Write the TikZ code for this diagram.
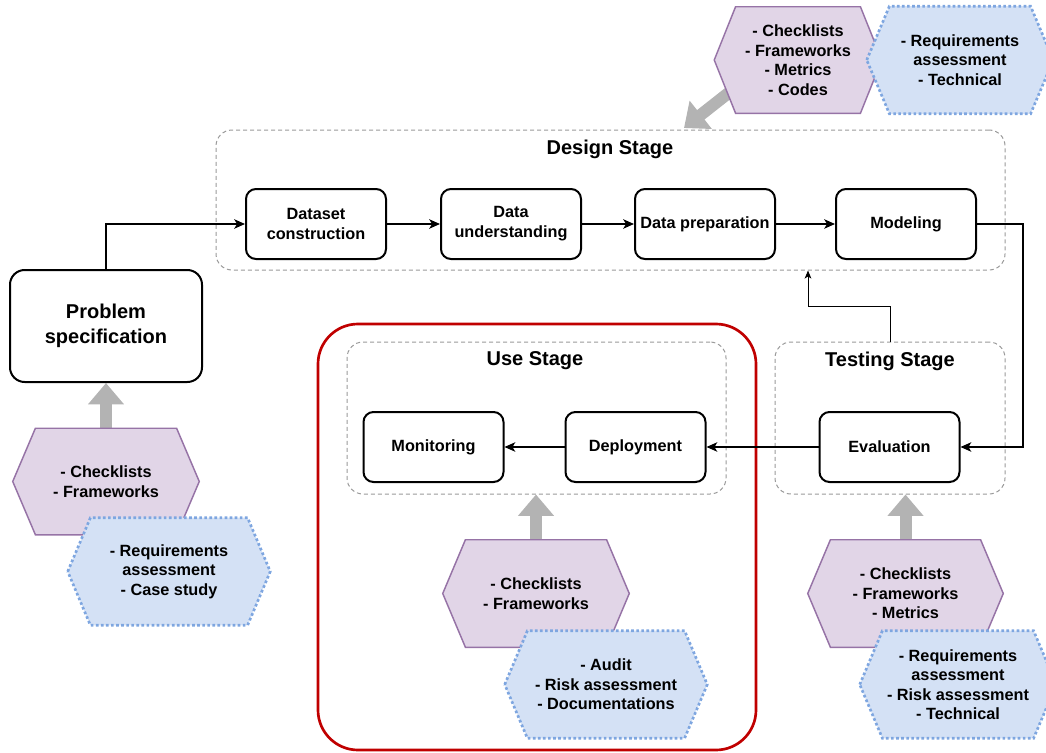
\documentclass[tikz,border=0pt]{standalone}
\usepackage{fontspec}
\setmainfont{Liberation Sans}
\usetikzlibrary{arrows.meta,calc}
\pgfdeclarelayer{back}
\pgfdeclarelayer{hexlayer}
\pgfsetlayers{back,hexlayer,main}
\definecolor{pfill}{HTML}{E1D5E7}
\definecolor{pdraw}{HTML}{9673A6}
\definecolor{bfill}{HTML}{D4E1F5}
\definecolor{bdraw}{HTML}{7EA6E0}
\definecolor{garrow}{HTML}{B3B3B3}
\definecolor{dgray}{HTML}{999999}
\definecolor{redbox}{HTML}{C00000}
\newcommand{\hexshape}[3]{\begin{pgfonlayer}{hexlayer}\path[#3] (#1.west) -- ([xshift=#2]#1.north west) -- ([xshift=-#2]#1.north east) -- (#1.east) -- ([xshift=-#2]#1.south east) -- ([xshift=#2]#1.south west) -- cycle;\end{pgfonlayer}}
\tikzset{
  box/.style={draw, line width=1.5pt, rounded corners=7.5pt, minimum width=105pt, minimum height=52.5pt, align=center, font=\fontsize{12.2}{15}\selectfont\bfseries, inner sep=2pt},
  stagebox/.style={draw=dgray, line width=0.75pt, dash pattern=on 3pt off 2.25pt, rounded corners=12pt},
  stagetitle/.style={font=\fontsize{15}{18}\selectfont\bfseries},
  hextext/.style={inner sep=0pt, align=center, font=\fontsize{12.2}{14.6}\selectfont\bfseries},
  phex/.style={fill=pfill, draw=pdraw, line width=1.1pt},
  bhex/.style={fill=bfill, draw=bdraw, line width=2pt, dash pattern=on 2pt off 1.8pt},
  conn/.style={draw, line width=1.3pt, -{Stealth[length=8pt,width=7pt,inset=2pt]}},
  thinconn/.style={draw, line width=0.75pt, -{Stealth[length=6pt,width=5pt,inset=1.5pt]}},
  garr/.style={draw=garrow, line width=9pt, -{Triangle[width=26pt,length=16pt]}}
}
\begin{document}
\begin{tikzpicture}[x=0.75pt,y=-0.75pt]
\useasboundingbox (0,0) rectangle (1046,753);
% stage frames
\node[stagebox, minimum width=591.75pt, minimum height=105pt] (design) at (610.5,200) {};
\node[stagetitle] (designt) at (610,149) {Design Stage};
\node[stagebox, minimum width=172.5pt, minimum height=114pt] (testing) at (890,418) {};
\node[stagetitle] (testingt) at (890,361) {Testing Stage};
\node[stagebox, minimum width=284.25pt, minimum height=114pt] (use) at (536.5,418) {};
\node[stagetitle] (uset) at (535,361) {Use Stage};
\node[draw=redbox, line width=2pt, rounded corners=30pt, minimum width=328.5pt, minimum height=319.5pt] (usered) at (537,537) {};
% process boxes
\node[box] (dataset) at (316,224) {Dataset\\construction};
\node[box] (underst) at (511,224) {Data\\understanding};
\node[box] (prep) at (705,224) {Data preparation};
\node[box] (model) at (906,224) {Modeling};
\node[box] (eval) at (889.5,447) {Evaluation};
\node[box] (deploy) at (635.5,447) {Deployment};
\node[box] (monitor) at (433.5,447) {Monitoring};
\node[box, minimum width=144pt, minimum height=84pt, rounded corners=11pt, font=\fontsize{15}{18.75}\selectfont\bfseries] (pspec) at (106,326) {Problem\\specification};
% hexagons
\node[hextext, minimum width=125.25pt, minimum height=79.5pt] (tp) at (798,60) {- Checklists\\- Frameworks\\- Metrics\\- Codes};
\hexshape{tp}{16pt}{phex}
\node[hextext, minimum width=139.5pt, minimum height=80.25pt] (tb) at (960,60) {- Requirements\\assessment\\- Technical};
\hexshape{tb}{17pt}{bhex}
\node[hextext, minimum width=139.5pt, minimum height=79.5pt] (lp) at (106,481.5) {- Checklists\\- Frameworks};
\hexshape{lp}{17pt}{phex}
\node[hextext, minimum width=151.5pt, minimum height=80.25pt] (lb) at (169,571.5) {- Requirements\\assessment\\- Case study};
\hexshape{lb}{17pt}{bhex}
\node[hextext, minimum width=139.5pt, minimum height=80.25pt] (up) at (536,593.5) {- Checklists\\- Frameworks};
\hexshape{up}{17pt}{phex}
\node[hextext, minimum width=151.5pt, minimum height=80.25pt] (ub) at (606,684.5) {- Audit\\- Risk assessment\\- Documentations};
\hexshape{ub}{17pt}{bhex}
\node[hextext, minimum width=146.25pt, minimum height=80.25pt] (sp) at (905.5,593.5) {- Checklists\\- Frameworks\\- Metrics};
\hexshape{sp}{17pt}{phex}
\node[hextext, minimum width=147pt, minimum height=80.25pt] (sb) at (958,684.5) {- Requirements\\assessment\\- Risk assessment\\- Technical};
\hexshape{sb}{17pt}{bhex}
% gray arrows
\coordinate (tpstart) at (745,80);
\coordinate (tpend) at (684,128);
\begin{pgfonlayer}{back}
\draw[garr] (lp.north) -- (pspec.south);
\draw[garr] (up.north) -- (up.north |- use.south);
\draw[garr] (sp.north) -- (sp.north |- testing.south);
\draw[garr] (tpstart) -- (tpend);
\end{pgfonlayer}
% connectors
\coordinate (rt) at (1023,224);
\coordinate (fb) at (808,306);
\draw[conn] (pspec.north) |- (dataset.west);
\draw[conn] (dataset) -- (underst);
\draw[conn] (underst) -- (prep);
\draw[conn] (prep) -- (model);
\draw[conn] (model.east) -- (rt) |- (eval.east);
\draw[conn] (eval) -- (deploy);
\draw[conn] (deploy) -- (monitor);
\draw[thinconn] (testing.north) |- (fb) -- (fb |- design.south);
\end{tikzpicture}
\end{document}
